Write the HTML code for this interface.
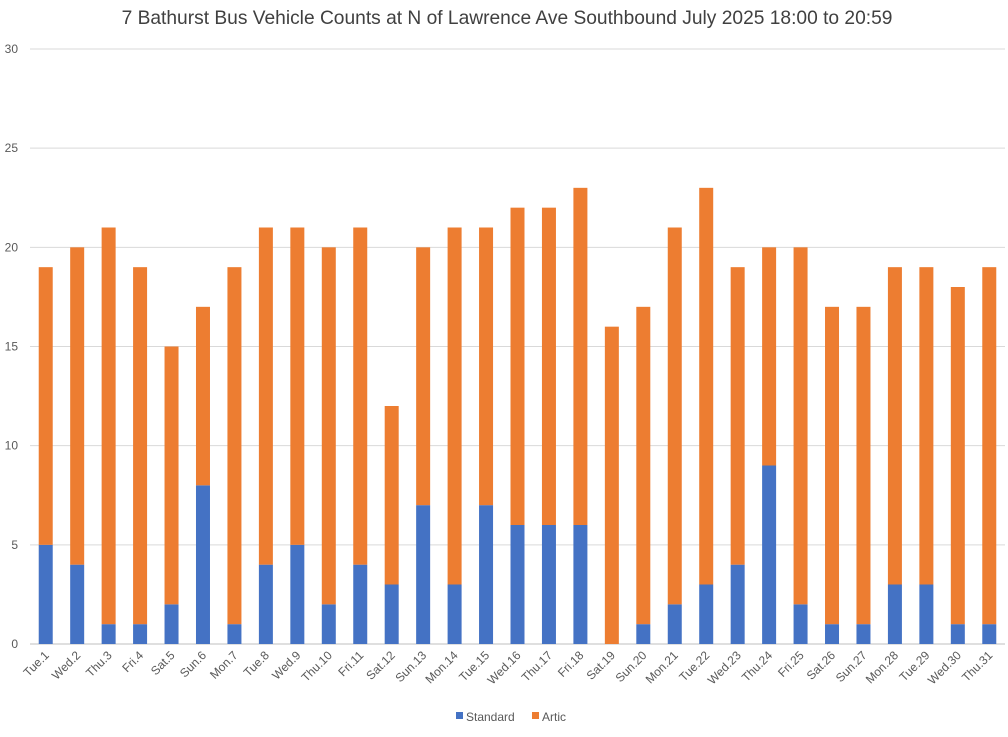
<!DOCTYPE html>
<html><head><meta charset="utf-8"><style>
body{margin:0;background:#fff;font-family:"Liberation Sans",sans-serif;}
svg text{font-family:"Liberation Sans",sans-serif;fill:#595959;}
</style></head><body>
<svg id="chart" width="1008" height="732" xmlns="http://www.w3.org/2000/svg">
<text x="507" y="24" text-anchor="middle" font-size="19.2" style="fill:#404040">7 Bathurst Bus Vehicle Counts at N of Lawrence Ave Southbound July 2025  18:00 to 20:59</text>
<g id="grid"></g><g id="bars"></g><g id="xl"></g>
<g>
<rect x="456" y="712" width="7" height="7" fill="#4472c4"/>
<text x="466" y="721" font-size="12">Standard</text>
<rect x="532" y="712" width="7" height="7" fill="#ed7d31"/>
<text x="542" y="721" font-size="12">Artic</text>
</g>
</svg>
<script>
const categories=["Tue.1","Wed.2","Thu.3","Fri.4","Sat.5","Sun.6","Mon.7","Tue.8","Wed.9","Thu.10","Fri.11","Sat.12","Sun.13","Mon.14","Tue.15","Wed.16","Thu.17","Fri.18","Sat.19","Sun.20","Mon.21","Tue.22","Wed.23","Thu.24","Fri.25","Sat.26","Sun.27","Mon.28","Tue.29","Wed.30","Thu.31"];
const standard=[5,4,1,1,2,8,1,4,5,2,4,3,7,3,7,6,6,6,0,1,2,3,4,9,2,1,1,3,3,1,1];
const artic=[14,16,20,18,13,9,18,17,16,18,17,9,13,18,14,16,16,17,16,16,19,20,15,11,18,16,16,16,16,17,18];
const yTicks=[0,5,10,15,20,25,30];
const NS="http://www.w3.org/2000/svg";
const x0=30,x1=1005,y0=644,yTop=49,yMax=30;
const band=(x1-x0)/categories.length;
const xC=i=>x0+band*(i+0.5);
const yS=v=>y0-(y0-yTop)*v/yMax;
function mk(t,a,p){const e=document.createElementNS(NS,t);for(const k in a)e.setAttribute(k,a[k]);p.appendChild(e);return e;}
const grid=document.getElementById('grid'),bars=document.getElementById('bars'),xl=document.getElementById('xl');
yTicks.forEach(v=>{
 const l=mk('line',{x1:x0,x2:x1,y1:yS(v),y2:yS(v),stroke:v===0?'#bfbfbf':'#d9d9d9','stroke-width':1},grid);
 
 
 const t=mk('text',{x:18,y:yS(v)+4,'text-anchor':'end','font-size':12},grid);
 t.textContent=v;
 
 
});
const bw=14;
categories.forEach((c,i)=>{
 const s=standard[i],a=artic[i];
 const r1=mk('rect',{x:xC(i)-bw/2,y:yS(s),width:bw,height:yS(0)-yS(s),fill:'#4472c4'},bars);
 
 
 const r2=mk('rect',{x:xC(i)-bw/2,y:yS(s+a),width:bw,height:yS(s)-yS(s+a),fill:'#ed7d31'},bars);
 
 
 const t=mk('text',{x:0,y:0,'text-anchor':'end','font-size':12,transform:`translate(${xC(i)+4},${y0+12}) rotate(-45)`},xl);
 t.textContent=c;
 
 
});
</script>
</body></html>
